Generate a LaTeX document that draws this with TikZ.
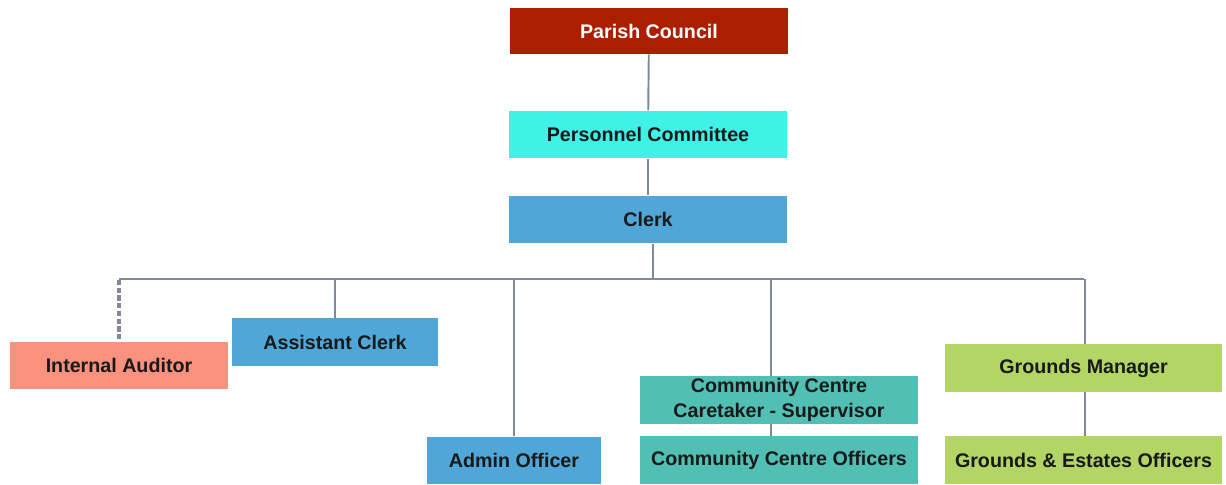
\documentclass[tikz,border=0pt]{standalone}
\usepackage{fontspec}
\setmainfont{Liberation Sans}
\usepackage{xcolor}

\definecolor{councilred}{HTML}{AB1F00}
\definecolor{committeecyan}{HTML}{3FF2E8}
\definecolor{clerkblue}{HTML}{50A6D7}
\definecolor{auditorsalmon}{HTML}{F8927F}
\definecolor{centreteal}{HTML}{52BFB4}
\definecolor{groundsgreen}{HTML}{B3D565}
\definecolor{linkgray}{HTML}{7F8999}

\tikzset{
    post/.style={rectangle, inner sep=0pt, font=\fontsize{11.2}{13.8}\selectfont\bfseries,
        text=black!90, align=center, minimum height=0.95cm},
    link/.style={draw=linkgray, line width=1.1pt},
}

\begin{document}
\begin{tikzpicture}[x=0.02cm, y=-0.02cm]
        \def\busY{279}
        \def\wideW{5.56cm}

        \useasboundingbox (0,0) rectangle (1226,484);

        \node[post, fill=councilred, text=white, minimum width=\wideW, minimum height=0.92cm] (council) at (649,31) {Parish Council};
        \node[post, fill=committeecyan, minimum width=\wideW] (committee) at (648,134.5) {Personnel Committee};
        \node[post, fill=clerkblue, minimum width=\wideW] (clerk) at (648,219.5) {Clerk};

        \node[post, fill=auditorsalmon, minimum width=4.36cm] (auditor) at (119,365.5) {Internal Auditor};
        \node[post, fill=clerkblue, minimum width=4.12cm] (assistant) at (335,342) {Assistant Clerk};
        \node[post, fill=clerkblue, minimum width=3.48cm] (admin) at (514,460.5) {Admin Officer};
        \node[post, fill=centreteal, minimum width=\wideW] (caretaker) at (779,400) {Community Centre\\Caretaker - Supervisor};
        \node[post, fill=centreteal, minimum width=\wideW] (centreoff) at (779,460) {Community Centre Officers};
        \node[post, fill=groundsgreen, minimum width=5.54cm] (grounds) at (1083.5,368) {Grounds Manager};
        \node[post, fill=groundsgreen, minimum width=5.54cm] (estates) at (1083.5,460) {Grounds \& Estates Officers};

        \coordinate (bus) at (653,\busY);

        \draw[link] (council) -- (committee);
        \draw[link] (committee) -- (clerk);
        \draw[link] (clerk.south -| bus) -- (bus);
        \draw[link] (auditor |- bus) -- (grounds |- bus);

        \draw[link, dash pattern=on 3pt off 1.4pt, line width=2.2pt] ([yshift=-0.5pt]auditor |- bus) -- (auditor.north);
        \draw[link] (assistant |- bus) -- (assistant);
        \draw[link] (admin |- bus) -- (admin);
        \draw[link] ([xshift=-0.16cm]caretaker.north |- bus) -- ([xshift=-0.16cm]caretaker.north);
        \draw[link] ([xshift=-0.16cm]caretaker.south) -- ([xshift=-0.16cm]centreoff.north);
        \draw[link] ([xshift=0.03cm]grounds.north |- bus) -- ([xshift=0.03cm]grounds.north);
        \draw[link] ([xshift=0.03cm]grounds.south) -- ([xshift=0.03cm]estates.north);
    \end{tikzpicture}
\end{document}
